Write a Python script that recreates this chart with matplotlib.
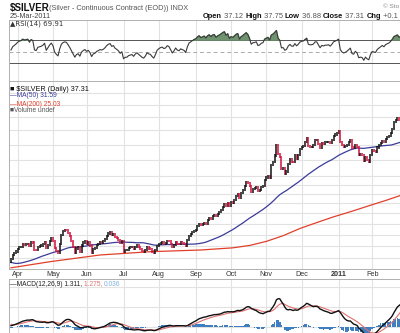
import numpy as np
import pandas as pd
import matplotlib
matplotlib.use("Agg")
import matplotlib.pyplot as plt

# ---------------- data (daily closes) ----------------
holidays = ["2010-01-01", "2010-01-18", "2010-02-15", "2010-04-02", "2010-05-31",
            "2010-07-05", "2010-09-06", "2010-11-25", "2010-12-24", "2011-01-17",
            "2011-02-21"]
c_2010_01 = [17.44, 17.73, 18.10, 18.35, 18.32, 18.63, 18.80, 18.50, 18.62, 18.95,
             18.40, 17.60, 17.20, 17.10, 16.75, 16.30, 16.50, 16.45, 16.20]
c_2010_02 = [16.30, 16.15, 15.40, 14.90, 15.20, 15.35, 15.40, 15.75, 15.55, 15.80,
             16.05, 16.10, 16.25, 16.15, 15.95, 16.10, 16.20, 16.35, 16.45]
c_2010_03 = [16.55, 16.70, 16.85, 17.05, 17.25, 17.35, 17.50, 17.55, 17.40, 17.15,
             17.20, 17.45, 17.50, 17.25, 16.95, 16.70, 16.85, 16.75, 16.72, 16.95,
             17.25, 17.40, 17.55]
c_2010_04 = [17.75, 17.90, 17.95, 18.15, 18.10, 18.15, 18.20, 18.05, 18.35, 18.30,
             17.70, 17.65, 17.95, 18.00, 18.05, 18.15, 18.35, 17.85, 18.10, 18.40,
             18.65]
c_2010_05 = [18.45, 17.85, 17.60, 17.40, 18.20, 18.95, 19.30, 19.45, 19.40, 19.15,
             18.85, 18.45, 17.95, 17.45, 17.80, 17.90, 17.50, 18.05, 18.30, 18.45]
c_2010_06 = [18.20, 18.35, 18.05, 17.40, 17.75, 17.85, 18.10, 18.20, 18.35, 18.30,
             18.40, 18.60, 18.90, 19.10, 19.20, 18.95, 19.05, 18.80, 18.70, 18.55,
             18.30, 18.45]
c_2010_07 = [17.55, 17.70, 17.70, 17.85, 17.90, 17.95, 17.75, 17.95, 18.05, 17.90,
             17.75, 17.60, 17.50, 17.65, 17.90, 17.80, 17.75, 17.55, 17.40, 17.65,
             18.00]
c_2010_08 = [18.15, 18.25, 18.30, 18.20, 18.25, 18.45, 18.40, 18.20, 17.95, 18.10,
             18.35, 18.20, 18.15, 18.30, 18.25, 18.20, 18.05, 18.50, 18.90, 19.05,
             19.20, 19.35]
c_2010_09 = [19.45, 19.75, 19.95, 19.85, 19.95, 20.10, 20.00, 20.35, 20.55, 20.45,
             20.75, 20.85, 20.70, 20.95, 21.10, 21.35, 21.65, 21.90, 21.70, 22.05,
             21.75]
c_2010_10 = [22.10, 22.05, 22.35, 22.75, 22.95, 22.55, 23.10, 23.40, 23.85, 24.35,
             24.20, 23.85, 23.25, 23.55, 23.60, 23.75, 23.35, 23.45, 23.75, 23.85,
             24.60]
c_2010_11 = [24.85, 25.05, 24.80, 26.35, 26.70, 27.55, 28.90, 27.75, 27.40, 25.85,
             25.95, 25.30, 25.55, 26.50, 27.10, 26.75, 26.70, 27.55, 27.10, 27.60,
             28.40]
c_2010_12 = [28.70, 28.80, 29.30, 29.90, 28.80, 28.70, 28.70, 28.90, 29.60, 29.60,
             29.10, 28.60, 29.20, 29.10, 29.30, 29.30, 29.40, 29.20, 29.60, 30.20,
             30.40, 30.60]
c_2011_01 = [30.90, 29.40, 28.90, 28.70, 28.80, 29.00, 29.30, 29.60, 28.60, 28.50,
             29.00, 28.70, 27.60, 27.70, 27.60, 26.90, 27.40, 26.95, 26.70, 27.60]
c_2011_02 = [28.20, 28.10, 28.00, 28.60, 28.90, 29.20, 29.50, 29.30, 29.80, 30.00,
             30.20, 30.60, 31.20, 32.20, 32.50, 32.90, 32.60, 32.90, 33.90]
c_2011_03 = [34.40, 34.60, 34.80, 35.90, 35.90, 35.20, 35.30, 35.20, 35.60, 35.60,
             34.10, 35.30, 35.30, 35.60, 35.80, 36.60, 37.20, 37.20, 37.31]

ma200_dates = ["2010-03-26", "2010-04-29", "2010-06-11", "2010-07-26", "2010-09-07",
               "2010-10-04", "2010-10-18", "2010-11-01", "2010-11-15", "2010-11-30",
               "2010-12-14", "2010-12-29", "2011-01-13", "2011-01-28", "2011-02-11",
               "2011-02-25", "2011-03-25"]
ma200_vals = [16.25, 16.72, 17.26, 17.53, 17.67, 17.85, 18.05, 18.40, 18.90, 19.55,
              20.10, 20.65, 21.20, 21.75, 22.30, 22.84, 25.03]

month_labels = ["Apr", "May", "Jun", "Jul", "Aug", "Sep", "Oct", "Nov", "Dec",
                "2011", "Feb", "Mar"]
first_visible = "2010-03-26"
price_grid = [17, 18, 19, 20, 21, 22, 23, 24, 25, 27, 29, 31, 33, 35, 37]

# ---------------- build series ----------------
closes = np.array(c_2010_01 + c_2010_02 + c_2010_03 + c_2010_04 + c_2010_05 +
                  c_2010_06 + c_2010_07 + c_2010_08 + c_2010_09 + c_2010_10 +
                  c_2010_11 + c_2010_12 + c_2011_01 + c_2011_02 + c_2011_03)
dates = pd.bdate_range("2010-01-04", "2011-03-25", freq="C", holidays=holidays)
if len(dates) != len(closes):
    raise SystemExit(f"length mismatch {len(dates)} vs {len(closes)}")
s = pd.Series(closes)
ma50 = s.rolling(50).mean().values
d = s.diff()
gain = d.clip(lower=0).ewm(alpha=1/14, adjust=False).mean()
loss = (-d.clip(upper=0)).ewm(alpha=1/14, adjust=False).mean()
rsi = (100 - 100 / (1 + gain / loss)).values
ema12 = s.ewm(span=12, adjust=False).mean()
ema26 = s.ewm(span=26, adjust=False).mean()
macd = (ema12 - ema26)
signal = macd.ewm(span=9, adjust=False).mean()
hist = (macd - signal).values
macd = macd.values
signal = signal.values

x = np.arange(len(closes))
i0 = int(dates.searchsorted(pd.Timestamp(first_visible)))
month_starts = [int(np.where((dates.year == y) & (dates.month == m))[0][0])
                for y, m in [(2010, 4), (2010, 5), (2010, 6), (2010, 7), (2010, 8),
                             (2010, 9), (2010, 10), (2010, 11), (2010, 12),
                             (2011, 1), (2011, 2), (2011, 3)]]
ia = month_starts[0]
ma200_x = [int(dates.searchsorted(pd.Timestamp(t))) for t in ma200_dates]

# ---------------- figure layout (pixel based) ----------------
W, H = 400, 333
fig = plt.figure(figsize=(W / 100, H / 100), dpi=100)
fig.patch.set_facecolor("white")
plt.rcParams["font.family"] = ["Liberation Sans", "DejaVu Sans"]

PXD = 1.68
left_px, right_px = 9, 440
xl = ia - (17.7 - left_px) / PXD
xr = xl + (right_px - left_px) / PXD


def ax_at(top, bottom):
    return fig.add_axes([left_px / W, 1 - bottom / H, (right_px - left_px) / W,
                         (bottom - top) / H])


grid_c = "#e2e2e2"
spine_c = "#b0b0b0"


def style(ax):
    ax.set_xlim(xl, xr)
    for sp in ax.spines.values():
        sp.set_color(spine_c)
        sp.set_linewidth(0.7)
    ax.tick_params(length=0, labelleft=False, labelbottom=False)
    for m in month_starts:
        ax.axvline(m, color=grid_c, lw=0.8, zorder=0)


# RSI panel
ax_r = ax_at(20, 81)
style(ax_r)
ax_r.set_ylim(-1.3, 104.8)
ax_r.set_yticks([])
vis = slice(i0, None)
ax_r.plot(x[vis], rsi[vis], color="#3a3a3a", lw=0.8, zorder=3)
ax_r.fill_between(x[vis], rsi[vis], 70, where=rsi[vis] > 70, interpolate=True,
                  color="#6f936f", zorder=2)
ax_r.fill_between(x[vis], rsi[vis], 30, where=rsi[vis] < 30, interpolate=True,
                  color="#6f936f", zorder=2)
ax_r.axhline(70, color="#555555", lw=0.7, zorder=1)
ax_r.axhline(30, color="#555555", lw=0.7, zorder=1)
ax_r.axhline(50, color="#aaaaaa", lw=0.7, ls=(0, (4, 3)), zorder=1)

# Price panel
ax_p = ax_at(81, 269)
style(ax_p)
ax_p.set_yscale("log")
ax_p.set_ylim(16.16, 39.1)
ax_p.yaxis.set_major_locator(matplotlib.ticker.NullLocator())
ax_p.yaxis.set_minor_locator(matplotlib.ticker.NullLocator())
for g in price_grid:
    ax_p.axhline(g, color=grid_c, lw=0.8, zorder=0)
xv = x[i0:]
cv = closes[i0:]
ov = closes[i0 - 1:-1]
lo = np.minimum(ov, cv) * 0.995
hi = np.maximum(ov, cv) * 1.005
cols = np.where(cv >= ov, "#111111", "#d0103a")
ax_p.vlines(xv, lo, hi, colors=cols, lw=1.1, zorder=4)
ax_p.plot(x[i0:], ma50[i0:], color="#3b3b9a", lw=0.9, zorder=3)
ax_p.plot(ma200_x, ma200_vals, color="#e0402a", lw=0.9, zorder=3)

# MACD panel
ax_m = ax_at(279, 370)
style(ax_m)
ax_m.set_ylim(-2.15, 2.4)
for g in [-1, 0.0, 1.0, 2.0]:
    ax_m.axhline(g, color=grid_c, lw=0.8, zorder=0)
ax_m.bar(x[i0:], hist[i0:], width=0.9, color="#3f7fc0", zorder=2)
ax_m.plot(x[i0:], signal[i0:], color="#e07070", lw=0.8, zorder=3)
ax_m.plot(x[i0:], macd[i0:], color="#111111", lw=1.0, zorder=4)

# ---------------- texts ----------------
def ft(px, py, txt, **kw):
    fig.text(px / W, 1 - py / H, txt, va="center", **kw)

ft(10, 8, "$SILVER", fontsize=7, fontweight="bold", color="#111111")
ft(49, 8, "(Silver - Continuous Contract (EOD)) INDX", fontsize=5.3, color="#555555")
ft(10, 16, "25-Mar-2011", fontsize=5.2, color="#444444")
ft(399, 6, "\u00a9 Sto", fontsize=4.6, color="#888888", ha="right")

# OHLC line with mixed styles
xpos = 203
parts = [("Open", True), (" 37.12 ", False), ("High", True), (" 37.75 ", False),
         ("Low", True), (" 36.88 ", False), ("Close", True), (" 37.31 ", False),
         ("Chg", True), (" +0.1", False)]
fig.canvas.draw()
r = fig.canvas.get_renderer()
for t, b in parts:
    tt = fig.text(xpos / W, 1 - 16 / H, t, fontsize=5.4, va="center",
                  fontweight="bold" if b else "normal",
                  color="#111111" if b else "#555555")
    bb = tt.get_window_extent(renderer=r)
    xpos += bb.width

ft(10, 24, "\u25b2RSI(14) 69.91", fontsize=5, color="#333333",
   family=["DejaVu Sans"])

ft(10, 89, "\u25a0 $SILVER (Daily) 37.31", fontsize=5.2, color="#111111")
ft(10, 96, "\u2014MA(50) 31.59", fontsize=4.8, color="#3b3b9a")
ft(10, 104, "\u2014MA(200) 25.03", fontsize=4.8, color="#e0402a")
ft(10, 111, "\u25a0Volume undef", fontsize=4.8, color="#555555")

# MACD label with colored parts
xpos = 10
for t, c in [("\u2014MACD(12,26,9) 1.311, ", "#222222"), ("1.275, ", "#e07070"),
             ("0.036", "#7fb0e0")]:
    tt = fig.text(xpos / W, 1 - 284 / H, t, fontsize=4.8, va="center", color=c)
    xpos += tt.get_window_extent(renderer=r).width

# month labels under price panel (only those inside the visible picture)
for lab, m in zip(month_labels, month_starts):
    xp = left_px + (m - xl) * PXD
    if xp > 392:
        continue
    ft(xp, 274, lab, fontsize=5.2, ha="center", color="#333333",
       fontweight="bold" if lab == "2011" else "normal")

fig.savefig("out.png", dpi=100)
